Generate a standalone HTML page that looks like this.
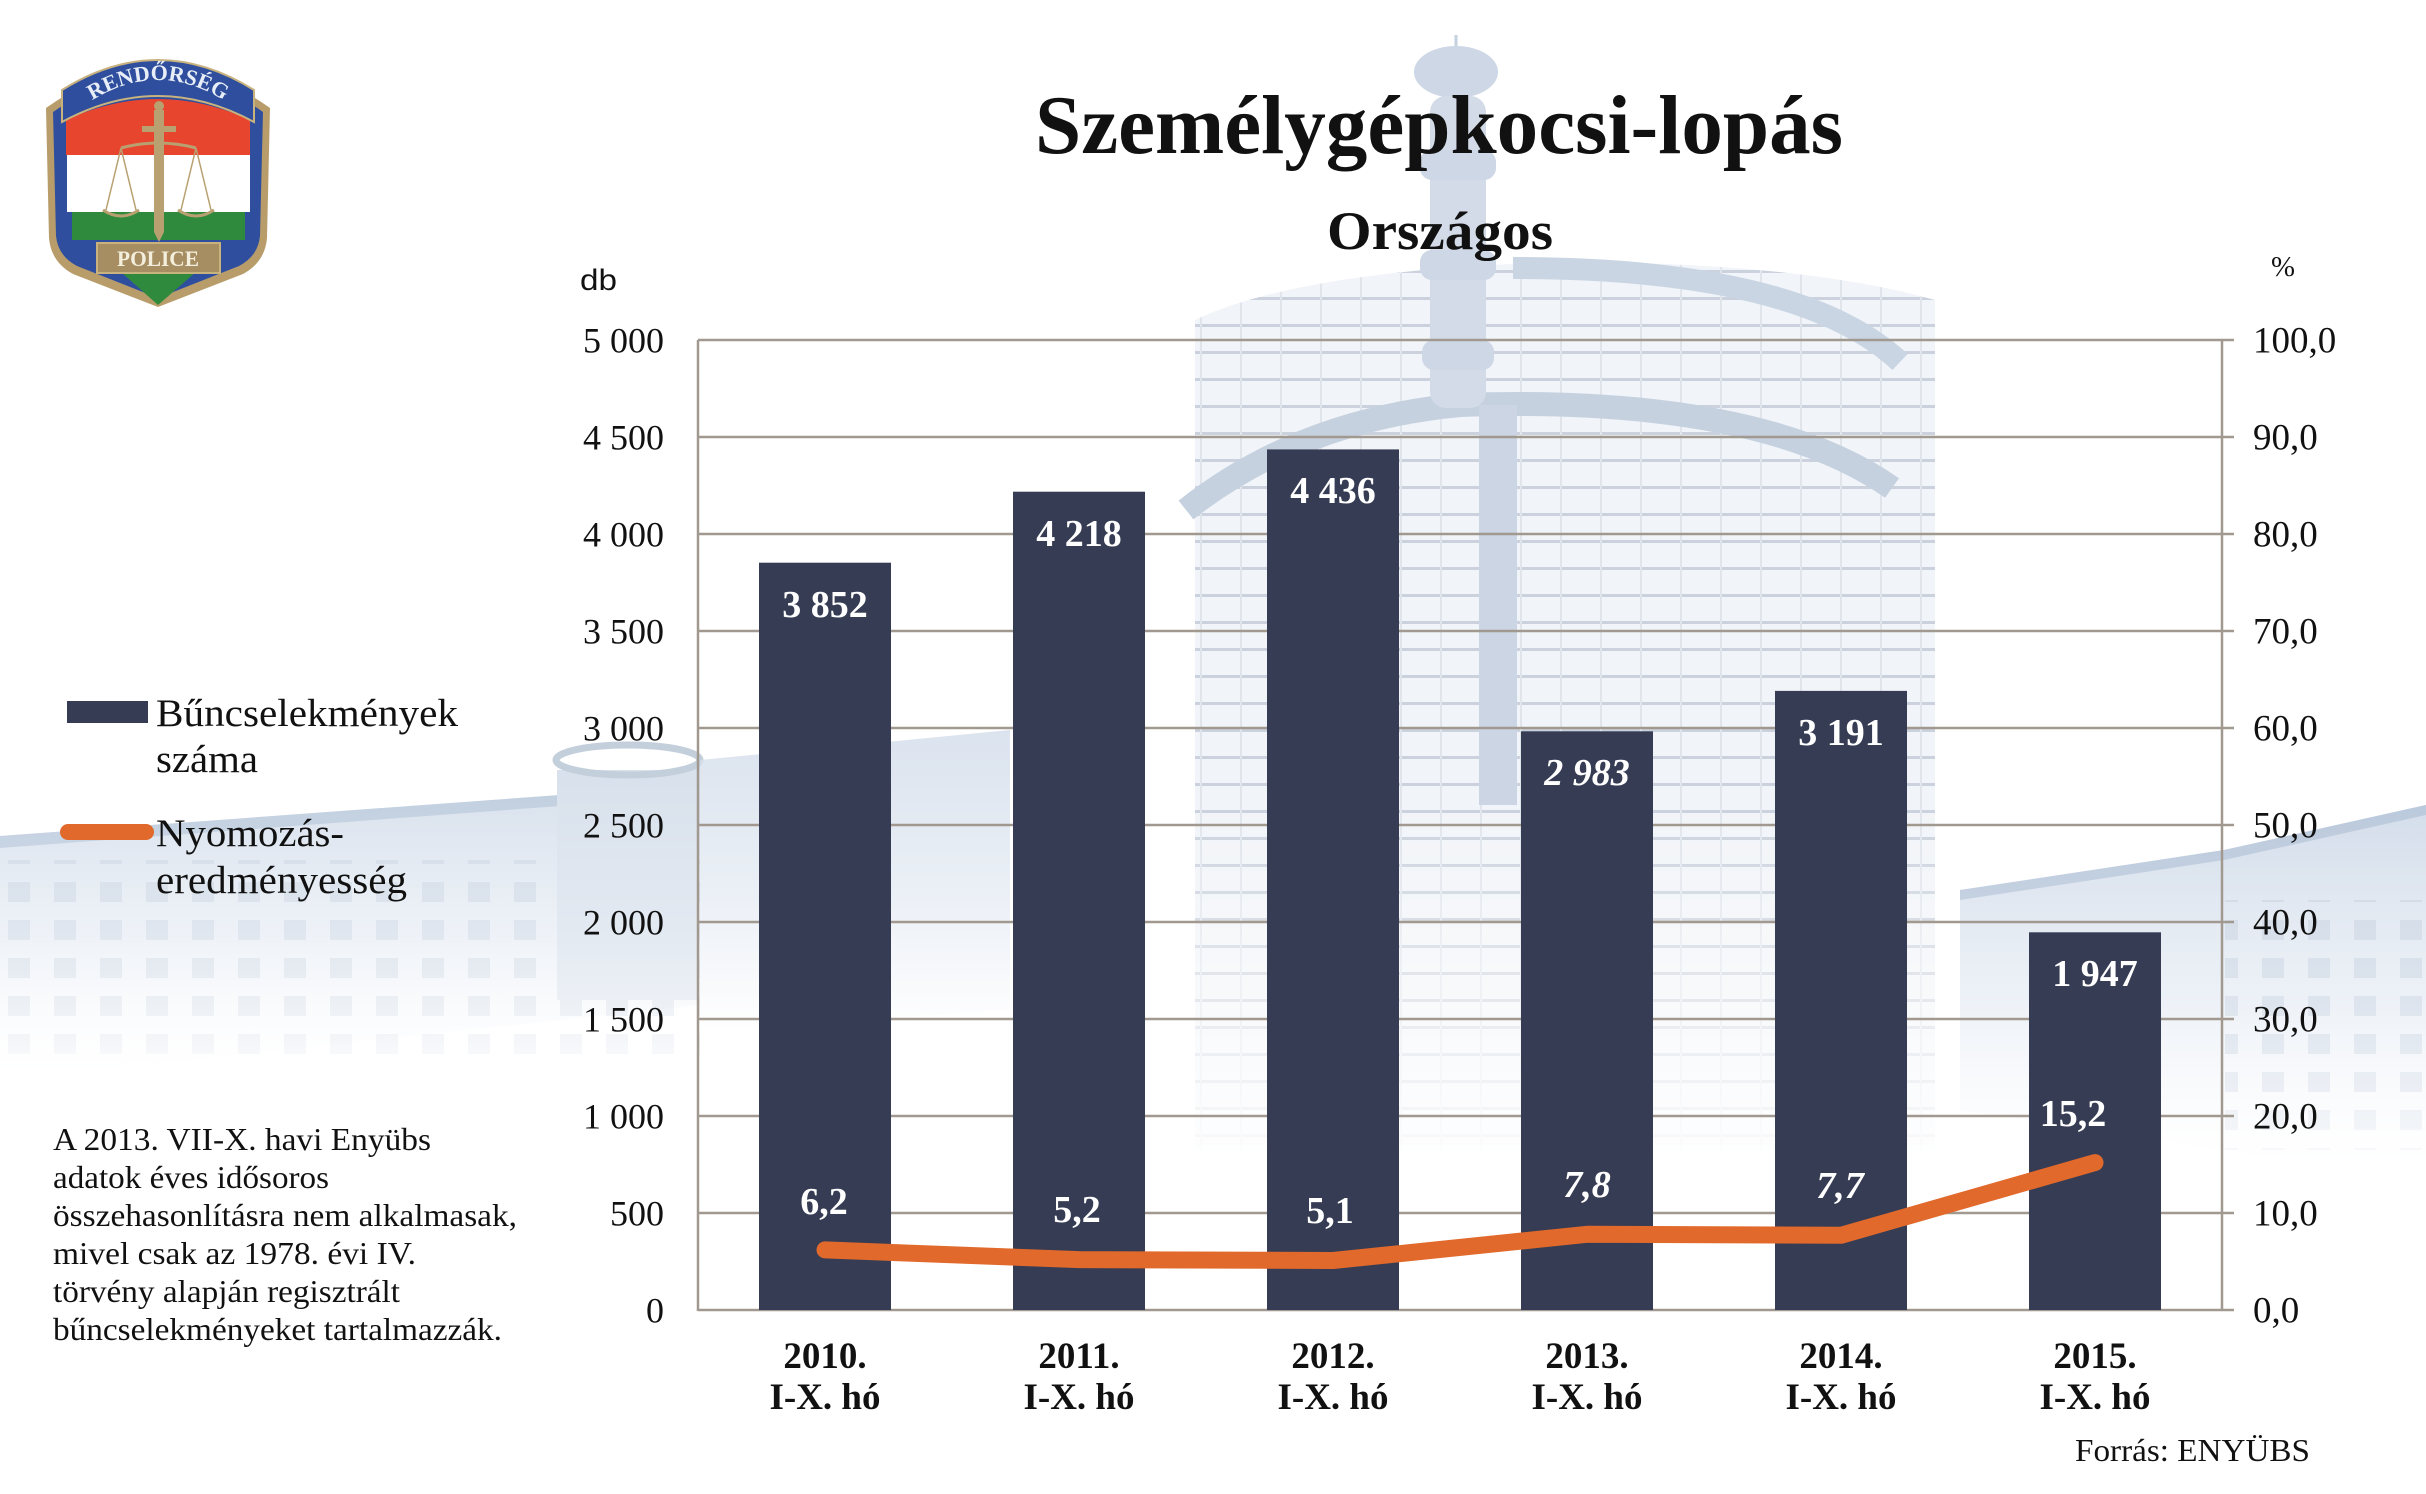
<!DOCTYPE html>
<html>
<head>
<meta charset="utf-8">
<style>
html,body{margin:0;padding:0;background:#fff;}
svg{display:block;}
</style>
</head>
<body>
<svg width="2426" height="1494" viewBox="0 0 2426 1494" xmlns="http://www.w3.org/2000/svg" font-family="'Liberation Serif', serif">
<defs>
  <pattern id="stripes" width="40" height="27" patternUnits="userSpaceOnUse">
    <rect width="40" height="27" fill="#f1f4f8"/>
    <rect y="0" width="40" height="3" fill="#cbd2dd"/>
    <rect x="0" width="2" height="27" fill="#e0e5ec"/>
  </pattern>
  <pattern id="win" width="46" height="38" patternUnits="userSpaceOnUse">
    <rect width="46" height="38" fill="none"/>
    <rect x="8" y="8" width="22" height="20" fill="#c3cfdf"/>
  </pattern>
  <linearGradient id="fadeV" x1="0" y1="0" x2="0" y2="1">
    <stop offset="0" stop-color="#fff"/>
    <stop offset="0.6" stop-color="#fff"/>
    <stop offset="1" stop-color="#000"/>
  </linearGradient>
  <mask id="mFacade" maskUnits="userSpaceOnUse" x="1150" y="200" width="850" height="1000">
    <rect x="1150" y="200" width="850" height="1000" fill="url(#fadeV)"/>
  </mask>
  <linearGradient id="lbFade" x1="0" y1="0" x2="0" y2="1">
    <stop offset="0" stop-color="#fff"/>
    <stop offset="0.5" stop-color="#fff" stop-opacity="0.7"/>
    <stop offset="1" stop-color="#000"/>
  </linearGradient>
  <mask id="mLeft" maskUnits="userSpaceOnUse" x="0" y="740" width="720" height="360">
    <rect x="0" y="740" width="720" height="360" fill="url(#lbFade)"/>
  </mask>
  <mask id="mRight" maskUnits="userSpaceOnUse" x="1900" y="790" width="526" height="400">
    <rect x="1900" y="790" width="526" height="400" fill="url(#lbFade)"/>
  </mask>
  <linearGradient id="lb" x1="0" y1="0" x2="0" y2="1">
    <stop offset="0" stop-color="#d2dcea"/>
    <stop offset="0.55" stop-color="#e6ecf4"/>
    <stop offset="1" stop-color="#ffffff"/>
  </linearGradient>
</defs>

<!-- background building approximation -->
<g>
  <g mask="url(#mFacade)">
    <path d="M1195,320 Q1300,270 1560,262 Q1800,262 1935,300 L1935,1150 L1195,1150 Z" fill="url(#stripes)"/>
  </g>
  <!-- canopy arcs -->
  <path d="M1513,268 Q1800,268 1900,362" stroke="#cad5e3" stroke-width="22" fill="none"/>
  <path d="M1186,510 Q1300,420 1460,405 Q1760,395 1892,488" stroke="#c6d1e0" stroke-width="24" fill="none"/>
  <!-- spire -->
  <line x1="1456" y1="35" x2="1456" y2="50" stroke="#c6d1e0" stroke-width="3"/>
  <ellipse cx="1456" cy="72" rx="42" ry="26" fill="#cdd7e5"/>
  <rect x="1430" y="96" width="56" height="312" rx="16" fill="#d2dbe7"/>
  <rect x="1420" y="150" width="76" height="30" rx="12" fill="#cdd7e5"/>
  <rect x="1420" y="250" width="76" height="30" rx="12" fill="#cdd7e5"/>
  <rect x="1422" y="340" width="72" height="30" rx="12" fill="#cdd7e5"/>
  <rect x="1479" y="405" width="38" height="400" fill="#cbd5e3"/>
  <!-- left low building -->
  <g mask="url(#mLeft)">
    <polygon points="0,836 560,795 700,765 700,1005 0,1080" fill="url(#lb)"/>
    <polygon points="0,836 560,795 560,806 0,848" fill="#bccbdd"/>
    <rect x="0" y="860" width="700" height="200" fill="url(#win)" opacity="0.6"/>
    <rect x="557" y="770" width="140" height="230" fill="#d6dfeb"/>
  </g>
  <ellipse cx="628" cy="760" rx="72" ry="15" fill="none" stroke="#c4cfdc" stroke-width="7"/>
  <!-- building behind first bars -->
  <polygon points="700,760 1010,730 1010,1010 700,1030" fill="url(#lb)" opacity="0.8"/>
  <!-- right building -->
  <g mask="url(#mRight)">
    <polygon points="1960,890 2224,850 2426,805 2426,1180 1960,1110" fill="url(#lb)"/>
    <polygon points="1960,890 2224,850 2426,805 2426,815 2224,860 1960,900" fill="#b9c8db"/>
    <rect x="2225" y="900" width="201" height="250" fill="url(#win)" opacity="0.7"/>
  </g>
</g>

<!-- police logo -->
<g>
  <path d="M46,108 Q158,28 270,108 L267,238 Q265,262 243,274 L158,307 L73,274 Q51,262 49,238 Z" fill="#b89d6b"/>
  <path d="M53,112 Q158,38 263,112 L260,236 Q258,256 239,266 L158,298 L77,266 Q58,256 56,236 Z" fill="#2f4f9e"/>
  <path d="M66,120 Q158,78 250,120 L250,155 L66,155 Z" fill="#e8452f"/>
  <rect x="67" y="155" width="183" height="57" fill="#ffffff"/>
  <rect x="72" y="212" width="173" height="28" fill="#2f8a3e"/>
  <path d="M121,272 L196,272 L158,305 Z" fill="#2f8a3e"/>
  <!-- top ribbon -->
  <path d="M62,90 Q158,30 254,90 L254,122 Q158,70 62,122 Z" fill="#2f4f9e" stroke="#c8b27e" stroke-width="2"/>
  <path id="ribarc" d="M78,110 Q158,50 238,110" fill="none"/>
  <text font-size="22" font-weight="bold" fill="#e8eef8" text-anchor="middle"><textPath href="#ribarc" startOffset="50%">RENDŐRSÉG</textPath></text>
  <!-- sword -->
  <circle cx="159" cy="106" r="5" fill="#b8a070"/>
  <rect x="154" y="110" width="10" height="122" fill="#b8a070"/>
  <path d="M154,232 L164,232 L159,242 Z" fill="#b8a070"/>
  <rect x="142" y="126" width="34" height="6" fill="#b8a070"/>
  <!-- scales -->
  <path d="M121,148 Q158,138 196,148" stroke="#b8a070" stroke-width="3" fill="none"/>
  <path d="M121,148 L106,210 M121,148 L136,210 M196,148 L181,210 M196,148 L211,210" stroke="#b8a070" stroke-width="1.5" fill="none"/>
  <path d="M103,210 Q121,222 139,210 M178,210 Q196,222 214,210" stroke="#b8a070" stroke-width="3" fill="none"/>
  <!-- police ribbon -->
  <path d="M97,243 L220,243 L220,273 L97,273 Z" fill="#a68d62" stroke="#c8b27e" stroke-width="2"/>
  <text x="158" y="266" font-size="22" font-weight="bold" fill="#f4eedc" text-anchor="middle" textLength="82" lengthAdjust="spacingAndGlyphs">POLICE</text>
</g>

<!-- titles -->
<text x="1035" y="153" font-size="84" font-weight="bold" fill="#111" textLength="808" lengthAdjust="spacingAndGlyphs">Személygépkocsi-lopás</text>
<text x="1327" y="249" font-size="54" font-weight="bold" fill="#111" textLength="226" lengthAdjust="spacingAndGlyphs">Országos</text>

<text x="580" y="290" font-family="'Liberation Sans', sans-serif" font-size="30" fill="#111" textLength="37" lengthAdjust="spacingAndGlyphs">db</text>
<text x="2271" y="276" font-size="28" fill="#111" textLength="24" lengthAdjust="spacingAndGlyphs">%</text>

<!-- gridlines -->
<g stroke="#a1998f" stroke-width="2.5">
  <line x1="698" y1="340" x2="2234" y2="340"/>
  <line x1="698" y1="437" x2="2234" y2="437"/>
  <line x1="698" y1="534" x2="2234" y2="534"/>
  <line x1="698" y1="631" x2="2234" y2="631"/>
  <line x1="698" y1="728" x2="2234" y2="728"/>
  <line x1="698" y1="825" x2="2234" y2="825"/>
  <line x1="698" y1="922" x2="2234" y2="922"/>
  <line x1="698" y1="1019" x2="2234" y2="1019"/>
  <line x1="698" y1="1116" x2="2234" y2="1116"/>
  <line x1="698" y1="1213" x2="2234" y2="1213"/>
  <line x1="698" y1="1310" x2="2234" y2="1310"/>
  <line x1="698" y1="340" x2="698" y2="1311"/>
  <line x1="2222" y1="340" x2="2222" y2="1311"/>
</g>

<!-- left tick labels -->
<g font-size="36" fill="#111" text-anchor="end">
  <text x="664" y="352.5">5 000</text>
  <text x="664" y="449.5">4 500</text>
  <text x="664" y="546.5">4 000</text>
  <text x="664" y="643.5">3 500</text>
  <text x="664" y="740.5">3 000</text>
  <text x="664" y="837.5">2 500</text>
  <text x="664" y="934.5">2 000</text>
  <text x="664" y="1031.5">1 500</text>
  <text x="664" y="1128.5">1 000</text>
  <text x="664" y="1225.5">500</text>
  <text x="664" y="1322.5">0</text>
</g>
<!-- right tick labels -->
<g font-size="37" fill="#111">
  <text x="2253" y="352.5">100,0</text>
  <text x="2253" y="449.5">90,0</text>
  <text x="2253" y="546.5">80,0</text>
  <text x="2253" y="643.5">70,0</text>
  <text x="2253" y="740.5">60,0</text>
  <text x="2253" y="837.5">50,0</text>
  <text x="2253" y="934.5">40,0</text>
  <text x="2253" y="1031.5">30,0</text>
  <text x="2253" y="1128.5">20,0</text>
  <text x="2253" y="1225.5">10,0</text>
  <text x="2253" y="1322.5">0,0</text>
</g>

<!-- bars -->
<g fill="#363c53">
  <rect x="759" y="562.7" width="132" height="747.3"/>
  <rect x="1013" y="491.7" width="132" height="818.3"/>
  <rect x="1267" y="449.4" width="132" height="860.6"/>
  <rect x="1521" y="731.3" width="132" height="578.7"/>
  <rect x="1775" y="690.9" width="132" height="619.1"/>
  <rect x="2029" y="932.3" width="132" height="377.7"/>
</g>
<!-- bar value labels -->
<g font-size="38" font-weight="bold" fill="#ffffff" text-anchor="middle">
  <text x="825" y="617">3 852</text>
  <text x="1079" y="546">4 218</text>
  <text x="1333" y="503">4 436</text>
  <text x="1587" y="785" font-style="italic">2 983</text>
  <text x="1841" y="745">3 191</text>
  <text x="2095" y="986">1 947</text>
</g>

<!-- line series -->
<polyline points="825,1249.9 1079,1259.6 1333,1260.5 1587,1234.3 1841,1235.3 2095,1162.6" fill="none" stroke="#e1692b" stroke-width="17" stroke-linecap="round" stroke-linejoin="round"/>
<g font-size="38" font-weight="bold" fill="#ffffff" text-anchor="middle">
  <text x="824" y="1214">6,2</text>
  <text x="1077" y="1222">5,2</text>
  <text x="1330" y="1223">5,1</text>
  <text x="1587" y="1197" font-style="italic">7,8</text>
  <text x="1840" y="1198" font-style="italic">7,7</text>
  <text x="2073" y="1126">15,2</text>
</g>

<!-- x labels -->
<g font-size="37" font-weight="bold" fill="#111" text-anchor="middle">
  <text x="825" y="1368">2010.</text>
  <text x="825" y="1409">I-X. hó</text>
  <text x="1079" y="1368">2011.</text>
  <text x="1079" y="1409">I-X. hó</text>
  <text x="1333" y="1368">2012.</text>
  <text x="1333" y="1409">I-X. hó</text>
  <text x="1587" y="1368">2013.</text>
  <text x="1587" y="1409">I-X. hó</text>
  <text x="1841" y="1368">2014.</text>
  <text x="1841" y="1409">I-X. hó</text>
  <text x="2095" y="1368">2015.</text>
  <text x="2095" y="1409">I-X. hó</text>
</g>

<!-- legend -->
<rect x="67" y="701" width="81" height="22" fill="#363c53"/>
<g font-size="39" fill="#111">
  <text x="156" y="726" textLength="302" lengthAdjust="spacingAndGlyphs">Bűncselekmények</text>
  <text x="156" y="772" textLength="102" lengthAdjust="spacingAndGlyphs">száma</text>
  <text x="156" y="846" textLength="188" lengthAdjust="spacingAndGlyphs">Nyomozás-</text>
  <text x="156" y="893" textLength="251" lengthAdjust="spacingAndGlyphs">eredményesség</text>
</g>
<line x1="68" y1="832" x2="146" y2="832" stroke="#e1692b" stroke-width="16" stroke-linecap="round"/>

<!-- note -->
<g font-size="32" fill="#111">
  <text x="53" y="1150" textLength="378" lengthAdjust="spacingAndGlyphs">A 2013. VII-X. havi Enyübs</text>
  <text x="53" y="1188" textLength="276" lengthAdjust="spacingAndGlyphs">adatok éves idősoros</text>
  <text x="53" y="1226" textLength="464" lengthAdjust="spacingAndGlyphs">összehasonlításra nem alkalmasak,</text>
  <text x="53" y="1264" textLength="363" lengthAdjust="spacingAndGlyphs">mivel csak az 1978. évi IV.</text>
  <text x="53" y="1302" textLength="347" lengthAdjust="spacingAndGlyphs">törvény alapján regisztrált</text>
  <text x="53" y="1340" textLength="449" lengthAdjust="spacingAndGlyphs">bűncselekményeket tartalmazzák.</text>
</g>

<text x="2075" y="1461" font-size="32" fill="#111" textLength="235" lengthAdjust="spacingAndGlyphs">Forrás: ENYÜBS</text>
</svg>
</body>
</html>
